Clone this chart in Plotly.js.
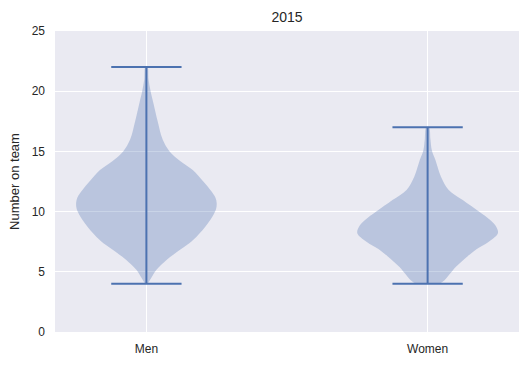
<!DOCTYPE html>
<html>
<head>
<meta charset="utf-8">
<script src="https://cdn.plot.ly/plotly-3.0.1.min.js"></script>
<style>html,body{margin:0;padding:0;background:#fff;}#chart{width:529px;height:366px;}</style>
</head>
<body>
<div id="chart"></div>
<script>
// Categories and positions
const categories = ["Men", "Women"];
const positions = [1, 2];

// Violin density profiles (value levels and relative density, max = 1)
const menLevels   = [4, 4.5, 5.15, 6, 6.55, 7.2, 7.9, 9, 9.6, 10.2, 10.7, 11.2, 11.8, 12.5, 13.45, 14.2, 15, 16, 17.5, 19, 20, 21, 22];
const menDensity  = [0.02, 0.07, 0.14, 0.29, 0.41, 0.57, 0.71, 0.87, 0.94, 0.99, 1.0, 0.98, 0.91, 0.81, 0.66, 0.48, 0.33, 0.23, 0.16, 0.10, 0.06, 0.03, 0.015];
const womenLevels  = [4, 4.3, 5.4, 6.3, 6.9, 7.5, 8.2, 8.8, 9.3, 10, 10.96, 11.8, 12.9, 14.3, 15.1, 16, 17];
const womenDensity = [0.17, 0.24, 0.40, 0.57, 0.70, 0.87, 1.0, 0.97, 0.89, 0.73, 0.50, 0.30, 0.19, 0.11, 0.06, 0.04, 0.02];

// Extremes (whisker ends)
const menMin = 4, menMax = 22;
const womenMin = 4, womenMax = 17;

const yTicks = [0, 5, 10, 15, 20, 25];

const halfWidth = 0.25;   // violin half-width at max density
const capHalf = 0.125;    // half-length of the caps
const lineColor = "#4c72b0";
const fillColor = "rgba(76,114,176,0.3)";

const groups = [
  {pos: positions[0], levels: menLevels, dens: menDensity, min: menMin, max: menMax},
  {pos: positions[1], levels: womenLevels, dens: womenDensity, min: womenMin, max: womenMax}
];

const traces = [];
groups.forEach(g => {
  const xs = [], ys = [];
  for (let i = 0; i < g.levels.length; i++) { xs.push(g.pos + g.dens[i] * halfWidth); ys.push(g.levels[i]); }
  for (let i = g.levels.length - 1; i >= 0; i--) { xs.push(g.pos - g.dens[i] * halfWidth); ys.push(g.levels[i]); }
  traces.push({type: "scatter", mode: "lines", x: xs, y: ys, fill: "toself", fillcolor: fillColor,
               line: {width: 0, color: fillColor, shape: "spline", smoothing: 1}, hoverinfo: "skip", showlegend: false});
});
groups.forEach(g => {
  traces.push({type: "scatter", mode: "lines",
    x: [g.pos, g.pos, null, g.pos - capHalf, g.pos + capHalf, null, g.pos - capHalf, g.pos + capHalf],
    y: [g.min, g.max, null, g.min, g.min, null, g.max, g.max],
    line: {color: lineColor, width: 2}, showlegend: false, hoverinfo: "skip"});
});

const font = {family: "Liberation Sans, Arial, sans-serif", size: 12, color: "#262626"};
const layout = {
  width: 529, height: 366,
  margin: {l: 55, r: 10, t: 31, b: 34},
  paper_bgcolor: "#ffffff",
  plot_bgcolor: "#eaeaf2",
  font: font,
  title: {text: "2015", font: {family: font.family, size: 14, color: "#262626"}, x: 0.5, xref: "paper", y: 0.953, yanchor: "middle"},
  xaxis: {range: [0.675, 2.325], tickvals: positions, ticktext: categories, showgrid: true, gridcolor: "#ffffff",
          gridwidth: 1, zeroline: false, showline: false, ticks: "", tickfont: {size: 12}, ticklabelstandoff: 8},
  yaxis: {range: [0, 25], tickvals: yTicks, showgrid: true, gridcolor: "#ffffff", gridwidth: 1, zeroline: false,
          showline: false, ticks: "", tickfont: {size: 12}, ticklabelstandoff: 9,
          title: {text: "Number on team", font: {size: 13}, standoff: 9}},
  showlegend: false
};

Plotly.newPlot("chart", traces, layout, {displayModeBar: false, staticPlot: true});
</script>
</body>
</html>
